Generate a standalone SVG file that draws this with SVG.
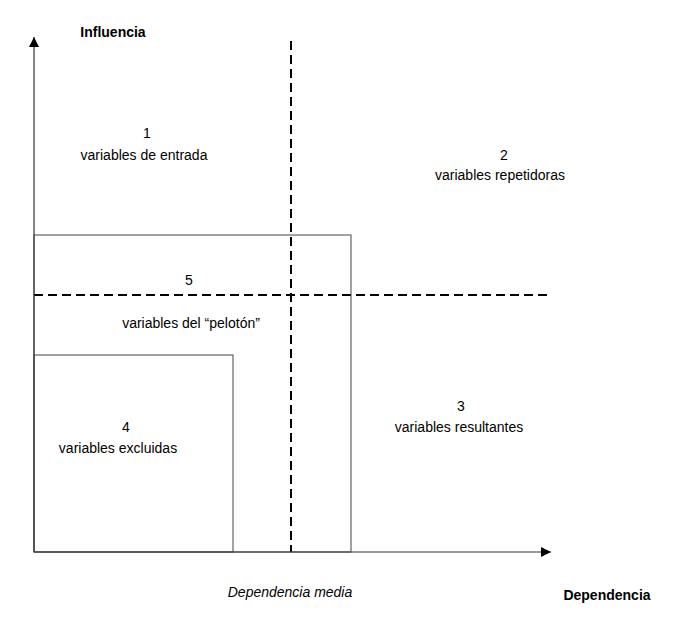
<svg xmlns="http://www.w3.org/2000/svg" width="696" height="617" viewBox="0 0 696 617">
<style>
text{font-family:"Liberation Sans",Arial,sans-serif;font-size:14px;fill:#000;text-anchor:middle}
.b{font-weight:bold}
.i{font-style:italic}
.box{fill:none;stroke:#444;stroke-width:1}
.axis{stroke:#333;stroke-width:1.2;fill:none}
.dash{stroke:#000;stroke-width:2;stroke-dasharray:9 5;fill:none}
</style>
<defs>
<marker id="arr" viewBox="0 0 10 10" refX="10" refY="5" markerWidth="13" markerHeight="10" markerUnits="userSpaceOnUse" orient="auto">
<path d="M0,0 L10,5 L0,10 z" fill="#000"/>
</marker>
</defs>
<rect width="696" height="617" fill="#fff"/>
<g id="connectors">
<line class="axis" x1="34" y1="552" x2="34" y2="37" marker-end="url(#arr)"/>
<line class="axis" x1="34" y1="552" x2="551" y2="552" marker-end="url(#arr)"/>
<line class="dash" x1="291" y1="41" x2="291" y2="552"/>
<line class="dash" x1="34" y1="295" x2="547" y2="295"/>
</g>
<g id="peloton">
<rect class="box" x="34" y="235" width="317" height="317"/>
<text x="189" y="285">5</text>
<text x="191" y="328">variables del “pelotón”</text>
</g>
<g id="excluidas">
<rect class="box" x="34" y="355" width="199" height="197"/>
<text x="126" y="432">4</text>
<text x="118" y="453">variables excluidas</text>
</g>
<g id="entrada">
<text x="147" y="138">1</text>
<text x="144" y="160">variables de entrada</text>
</g>
<g id="repetidoras">
<text x="504" y="160">2</text>
<text x="500" y="180">variables repetidoras</text>
</g>
<g id="resultantes">
<text x="461" y="411">3</text>
<text x="459" y="432">variables resultantes</text>
</g>
<g id="labels">
<text class="b" x="113" y="37">Influencia</text>
<text class="b" x="607" y="600">Dependencia</text>
<text class="i" x="290" y="597">Dependencia media</text>
</g>
</svg>
